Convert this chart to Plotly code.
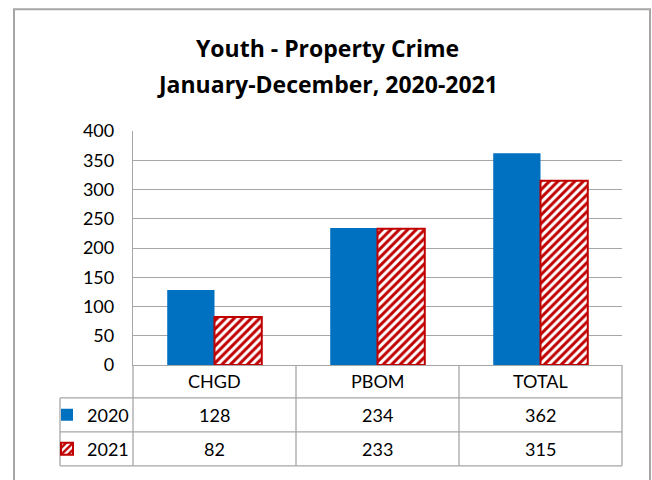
import plotly.graph_objects as go

categories = ["CHGD", "PBOM", "TOTAL"]
series_names = ["2020", "2021"]
values_2020 = [128, 234, 362]
values_2021 = [82, 233, 315]
title_line1 = "Youth - Property Crime"
title_line2 = "January-December, 2020-2021"

W, H = 652, 480
L, R, T, B = 133, 622, 131, 368.6
FONT = "Lato"
TFONT = "Open Sans"
GRID = "#A6A6A6"
BLUE = "#0070C0"
RED = "#C00000"


def px_x(x):
    return (x - L) / (R - L)


def px_y(y):
    return (B - y) / (B - T)


fig = go.Figure()
fig.add_trace(go.Bar(
    x=categories, y=values_2020, name=series_names[0],
    marker=dict(color=BLUE, line=dict(color=BLUE, width=0)),
    legend="legend",
))
fig.add_trace(go.Bar(
    x=categories, y=values_2021, name=series_names[1],
    marker=dict(color="white", line=dict(color=RED, width=2),
                pattern=dict(shape="/", fgcolor=RED, bgcolor="white",
                             size=6, solidity=0.5, fillmode="replace")),
    legend="legend2",
))

shapes = []
line = dict(color=GRID, width=1.3)
# outer border
shapes.append(dict(type="rect", xref="paper", yref="paper",
                   x0=px_x(14), x1=px_x(650), y0=px_y(495), y1=px_y(7.5),
                   line=dict(color="#A6A6A6", width=2), layer="below"))
# table vertical lines
for xv in [133, 296, 459, 622]:
    shapes.append(dict(type="line", xref="paper", yref="paper",
                       x0=px_x(xv), x1=px_x(xv), y0=px_y(368.6), y1=px_y(471), line=line))
shapes.append(dict(type="line", xref="paper", yref="paper",
                   x0=px_x(60), x1=px_x(60), y0=px_y(402), y1=px_y(471), line=line))
for yv in [402, 436.5, 471]:
    shapes.append(dict(type="line", xref="paper", yref="paper",
                       x0=px_x(60), x1=px_x(622), y0=px_y(yv), y1=px_y(yv), line=line))

ann = []
for txt, yc in [(title_line1, 47), (title_line2, 83)]:
    ann.append(dict(text=f"<b>{txt}</b>", xref="paper", yref="paper",
                    x=px_x(327), y=px_y(yc), xanchor="center", yanchor="middle",
                    showarrow=False, font=dict(family=TFONT, size=23, color="black")))
cell_font = dict(family=FONT, size=18, color="black")
for i, c in enumerate(categories):
    for txt, yc in [(c, 385), (str(values_2020[i]), 419.5), (str(values_2021[i]), 454)]:
        ann.append(dict(text=txt, xref="x", yref="paper", x=c, y=px_y(yc),
                        xanchor="center", yanchor="middle",
                        showarrow=False, font=cell_font))

fig.update_layout(
    width=W, height=H,
    margin=dict(l=L, r=W - R, t=T, b=H - B),
    paper_bgcolor="white", plot_bgcolor="white",
    barmode="group", bargap=0.42, bargroupgap=0,
    font=dict(family=FONT, size=18, color="black"),
    showlegend=True,
    legend=dict(x=px_x(47), y=px_y(419.5), xanchor="left", yanchor="middle",
                bgcolor="rgba(0,0,0,0)", font=dict(family=FONT, size=18, color="black"),
                itemwidth=30),
    legend2=dict(x=px_x(47), y=px_y(454), xanchor="left", yanchor="middle",
                 bgcolor="rgba(0,0,0,0)", font=dict(family=FONT, size=18, color="black"),
                 itemwidth=30),
    shapes=shapes,
    annotations=ann,
)
fig.update_xaxes(showticklabels=False, showline=True, linecolor=GRID, linewidth=1.3,
                 ticks="", showgrid=False)
fig.update_yaxes(range=[0, 400], dtick=50, showgrid=True, gridcolor=GRID, gridwidth=1.3,
                 showline=True, linecolor=GRID, linewidth=1.3, ticks="",
                 tickfont=dict(family=FONT, size=18, color="black"), ticklabelstandoff=14,
                 zeroline=False)

fig.write_html("out.html", config={"displayModeBar": False},
               post_script="document.body.style.margin='0px';")
